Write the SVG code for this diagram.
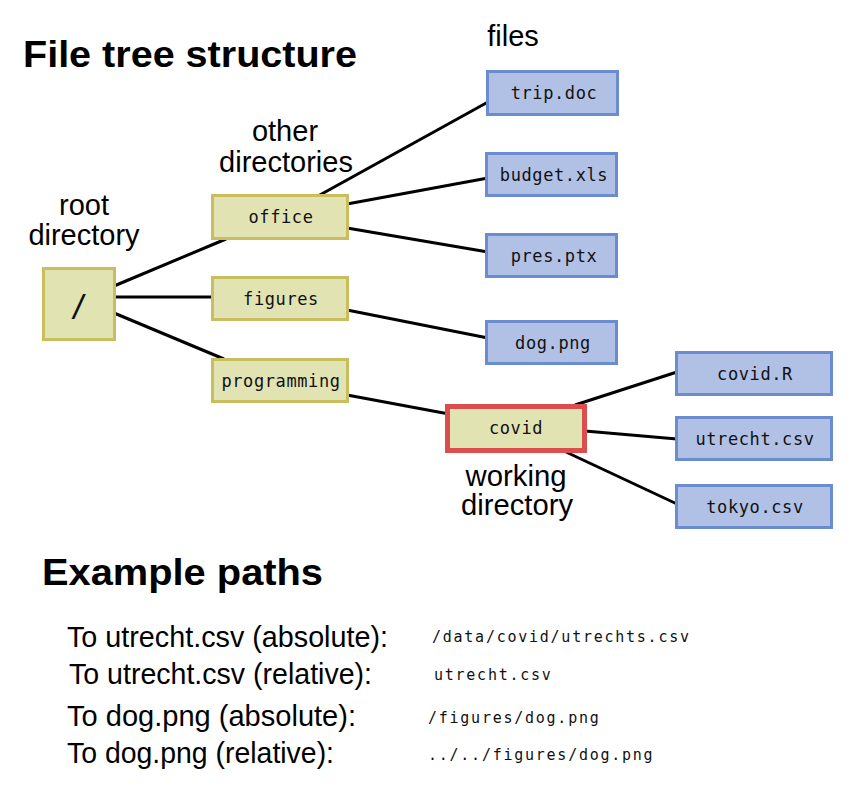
<svg xmlns="http://www.w3.org/2000/svg" width="859" height="800" viewBox="0 0 859 800">
<style>
.dir{fill:#e1e3b3;stroke:#c9be5e;stroke-width:3}
.file{fill:#b1c0e5;stroke:#6b8dcf;stroke-width:3}
.wd{fill:#e1e3b3;stroke:#dc4d4d;stroke-width:5}
.mono{font-family:"DejaVu Sans Mono","Liberation Mono",monospace;font-size:17px;letter-spacing:0.6px;fill:#111;text-anchor:middle}
.lbl{font-family:"Liberation Sans",Arial,sans-serif;font-size:29px;fill:#000;text-anchor:middle}
.title{font-family:"Liberation Sans",Arial,sans-serif;font-size:36px;font-weight:bold;fill:#000}
.plbl{font-family:"Liberation Sans",Arial,sans-serif;font-size:30px;fill:#000}
.path{font-family:"DejaVu Sans Mono","Liberation Mono",monospace;font-size:15px;letter-spacing:1.75px;fill:#111}
.conn line{stroke:#000;stroke-width:3;stroke-linecap:butt}
</style>
<rect width="859" height="800" fill="#fff"/>
<text class="title" x="23" y="67" textLength="334" lengthAdjust="spacingAndGlyphs">File tree structure</text>
<text class="lbl" x="513" y="46">files</text>
<text class="lbl" x="285" y="141">other</text>
<text class="lbl" x="286" y="172">directories</text>
<text class="lbl" x="84" y="215">root</text>
<text class="lbl" x="84" y="245">directory</text>
<text class="lbl" x="516" y="486" font-size="27" textLength="101" lengthAdjust="spacingAndGlyphs">working</text>
<text class="lbl" x="517" y="515" font-size="27" textLength="112" lengthAdjust="spacingAndGlyphs">directory</text>
<g id="connectors" class="conn">
<line x1="114" y1="286" x2="226" y2="239"/>
<line x1="114" y1="297" x2="213" y2="297"/>
<line x1="114" y1="313" x2="224" y2="359"/>
<line x1="318" y1="196" x2="488" y2="102"/>
<line x1="347" y1="204" x2="488" y2="178"/>
<line x1="347" y1="228" x2="488" y2="252"/>
<line x1="347" y1="310" x2="488" y2="338"/>
<line x1="347" y1="395" x2="449" y2="414"/>
<line x1="575" y1="405" x2="677" y2="372"/>
<line x1="585" y1="431" x2="677" y2="439"/>
<line x1="566" y1="452" x2="677" y2="504"/>
</g>
<g id="node-root"><rect class="dir" x="43.5" y="268.5" width="71" height="71"/><text x="79" y="316" font-family="DejaVu Sans Mono,monospace" font-size="30" text-anchor="middle" fill="#111">/</text></g>
<g id="node-office"><rect class="dir" x="212.5" y="195.5" width="135" height="43"/><text class="mono" x="281" y="223">office</text></g>
<g id="node-figures"><rect class="dir" x="212.5" y="277.5" width="135" height="42"/><text class="mono" x="281" y="305">figures</text></g>
<g id="node-programming"><rect class="dir" x="212.5" y="359.5" width="135" height="42"/><text class="mono" x="281" y="387">programming</text></g>
<g id="node-trip"><rect class="file" x="487.5" y="71.5" width="130" height="43"/><text class="mono" x="554" y="99">trip.doc</text></g>
<g id="node-budget"><rect class="file" x="486.5" y="153.5" width="130" height="42"/><text class="mono" x="554" y="181">budget.xls</text></g>
<g id="node-pres"><rect class="file" x="486.5" y="234.5" width="130" height="42"/><text class="mono" x="554" y="262">pres.ptx</text></g>
<g id="node-dog"><rect class="file" x="486.5" y="321.5" width="130" height="42"/><text class="mono" x="553" y="349">dog.png</text></g>
<g id="node-covid"><rect class="wd" x="447.5" y="406.5" width="137" height="44"/><text class="mono" x="516" y="434">covid</text></g>
<g id="node-covidR"><rect class="file" x="676.5" y="352.5" width="155" height="42"/><text class="mono" x="755" y="380">covid.R</text></g>
<g id="node-utrecht"><rect class="file" x="676.5" y="417.5" width="155" height="42"/><text class="mono" x="755" y="445">utrecht.csv</text></g>
<g id="node-tokyo"><rect class="file" x="676.5" y="485.5" width="155" height="42"/><text class="mono" x="755" y="513">tokyo.csv</text></g>
<text class="title" x="42" y="585" textLength="281" lengthAdjust="spacingAndGlyphs">Example paths</text>
<text class="plbl" x="67" y="647" textLength="321" lengthAdjust="spacingAndGlyphs">To utrecht.csv (absolute):</text>
<text class="plbl" x="69" y="684" textLength="303" lengthAdjust="spacingAndGlyphs">To utrecht.csv (relative):</text>
<text class="plbl" x="67" y="726" textLength="289" lengthAdjust="spacingAndGlyphs">To dog.png (absolute):</text>
<text class="plbl" x="67" y="763" textLength="267" lengthAdjust="spacingAndGlyphs">To dog.png (relative):</text>
<text class="path" x="432" y="642">/data/covid/utrechts.csv</text>
<text class="path" x="434" y="680">utrecht.csv</text>
<text class="path" x="428" y="723">/figures/dog.png</text>
<text class="path" x="428" y="760">../../figures/dog.png</text>
</svg>
